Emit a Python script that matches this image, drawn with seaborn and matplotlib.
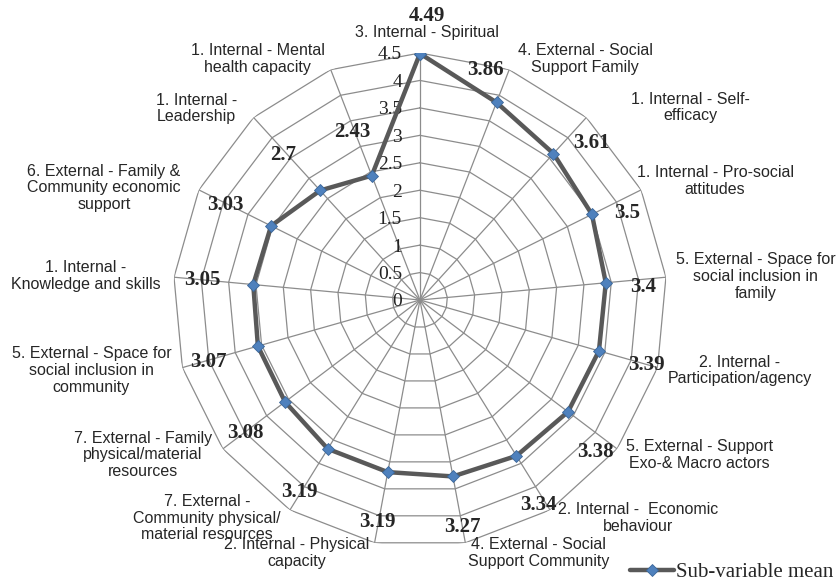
import numpy as np
import pandas as pd
import seaborn as sns
from matplotlib import pyplot as plt

# sub-variables, clockwise from the top
categories = [
    "3. Internal - Spiritual",
    "4. External - Social\nSupport Family",
    "1. Internal - Self-\nefficacy",
    "1. Internal - Pro-social\nattitudes",
    "5. External - Space for\nsocial inclusion in\nfamily",
    "2. Internal -\nParticipation/agency",
    "5. External - Support\nExo-& Macro actors",
    "2. Internal -  Economic\nbehaviour",
    "4. External - Social\nSupport Community",
    "2. Internal - Physical\ncapacity",
    "7. External -\nCommunity physical/\nmaterial resources",
    "7. External - Family\nphysical/material\nresources",
    "5. External - Space for\nsocial inclusion in\ncommunity",
    "1. Internal -\nKnowledge and skills",
    "6. External - Family &\nCommunity economic\nsupport",
    "1. Internal -\nLeadership",
    "1. Internal - Mental\nhealth capacity",
]
means = [4.49, 3.86, 3.61, 3.5, 3.4, 3.39, 3.38, 3.34, 3.27,
         3.19, 3.19, 3.08, 3.07, 3.05, 3.03, 2.7, 2.43]
value_labels = ["4.49", "3.86", "3.61", "3.5", "3.4", "3.39", "3.38", "3.34", "3.27",
                "3.19", "3.19", "3.08", "3.07", "3.05", "3.03", "2.7", "2.43"]
r_ticks = [0, 0.5, 1, 1.5, 2, 2.5, 3, 3.5, 4, 4.5]
r_tick_labels = ["0", "0.5", "1", "1.5", "2", "2.5", "3", "3.5", "4", "4.5"]
series_name = "Sub-variable mean"

# label placement (pixels, x right / y down)
cat_offsets = [(7, -20), (76, -11), (104, -10), (74, -9), (90, -1), (82, 3), (82, 6), (88, 8),
               (73, 10), (-78, 10), (-83, 8), (-80, 6), (-91, 3), (-88, -1), (-95, -2),
               (-57, -9), (-73, -11)]
val_offsets = [(7, -38), (-11, -32), (38, -11), (35, -1), (37, 4), (48, 14), (27, 40), (22, 49),
               (9, 51), (-10, 50), (-28, 43), (-40, 31), (-50, 16), (-51, -5), (-46, -21),
               (-37, -35), (-19, -44)]

sns.set_style("white")
plt.rcParams['font.family'] = ['Liberation Sans', 'DejaVu Sans']

n = len(categories)
theta = np.arange(n) * 2 * np.pi / n
rmax = r_ticks[-1]

fig = plt.figure(figsize=(8.38, 5.81), dpi=100)
ax = fig.add_axes([0.2064, 0.0585, 0.5895, 0.8503], projection='polar')
ax.set_theta_zero_location('N')
ax.set_theta_direction(-1)
ax.set_ylim(0, rmax)
ax.grid(False)
ax.spines['polar'].set_visible(False)
ax.set_xticks([])
ax.set_yticks([])
ax.patch.set_alpha(0)

grid_col = '#8c8c8c'
closed = np.append(theta, 2 * np.pi)
for r in r_ticks[1:]:
    ax.plot(closed, [r] * len(closed), color=grid_col, lw=0.9, zorder=1)
for t in theta:
    ax.plot([t, t], [0, rmax], color=grid_col, lw=0.9, zorder=1)

df = pd.DataFrame({'theta': closed, 'mean': means + means[:1]})
sns.lineplot(data=df, x='theta', y='mean', sort=False, ax=ax, color='#595959', lw=3.2,
             marker='D', markersize=5.8, markerfacecolor='#4F81BD',
             markeredgecolor='#3A6699', markeredgewidth=0.6, label=series_name, zorder=3)
ax.set_xlabel('')
ax.set_ylabel('')
handles, labels = ax.get_legend_handles_labels()
ax.get_legend().remove()

for r, lab in zip(r_ticks, r_tick_labels):
    ax.annotate(lab, (0, r), xytext=(-18, -2), textcoords='offset pixels',
                ha='right', va='center', fontsize=14, family='Liberation Serif',
                color='#222222', zorder=2)

for t, lab, (dx, dy) in zip(theta, categories, cat_offsets):
    ax.annotate(lab, (t, rmax), xytext=(dx, -dy), textcoords='offset pixels',
                ha='center', va='center', multialignment='center', fontsize=11.5,
                linespacing=1.15, annotation_clip=False)

for t, v, lab, (dx, dy) in zip(theta, means, value_labels, val_offsets):
    ax.annotate(lab, (t, v), xytext=(dx, -dy), textcoords='offset pixels',
                ha='center', va='center', fontsize=15, fontweight='bold',
                family='Liberation Serif', annotation_clip=False, zorder=4)

fig.legend(handles, labels, loc='center left', bbox_to_anchor=(0.752, 0.015),
           frameon=False, handlelength=2.1, handletextpad=0.1, borderpad=0,
           borderaxespad=0, prop={'family': 'Liberation Serif', 'size': 15})

fig.savefig('out.png', dpi=100)
